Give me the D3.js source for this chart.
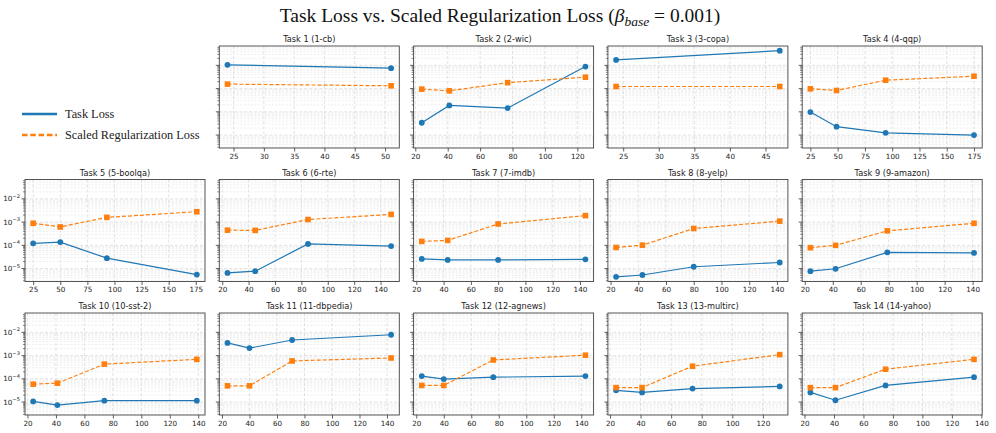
<!DOCTYPE html>
<html><head><meta charset="utf-8">
<script src="https://cdn.jsdelivr.net/npm/d3@7"></script>
<style>body{margin:0;background:#fff} svg{display:block}</style>
</head><body>
<svg id="c" width="996" height="433"></svg>
<script>
// ---------------- data ----------------
const titles = ["Task 1 (1-cb)","Task 2 (2-wic)","Task 3 (3-copa)","Task 4 (4-qqp)","Task 5 (5-boolqa)",
  "Task 6 (6-rte)","Task 7 (7-imdb)","Task 8 (8-yelp)","Task 9 (9-amazon)","Task 10 (10-sst-2)",
  "Task 11 (11-dbpedia)","Task 12 (12-agnews)","Task 13 (13-multirc)","Task 14 (14-yahoo)"];
const xValues = [
  [24,51],[24,41,77,125],[24,47],[25,49,94,175],[25,50,93,176],
  [24,45,85,148],[24,43,80,144],[24,43,80,142],[24,42,79,141],[24,41,74,139],
  [24,40,71,143],[24,40,76,143],[24,41,74,131],[24,41,75,135]];
const taskLoss = [
  [1.05e-2,7.6e-3],[3.4e-5,1.88e-4,1.45e-4,8.9e-3],[1.72e-2,4.3e-2],[9.8e-5,2.3e-5,1.25e-5,1.0e-5],
  [1.22e-4,1.38e-4,2.8e-5,5.5e-6],[6.5e-6,7.7e-6,1.15e-4,9.3e-5],[2.6e-5,2.35e-5,2.35e-5,2.5e-5],
  [4.4e-6,5.3e-6,1.2e-5,1.83e-5],[7.7e-6,9.8e-6,5.0e-5,4.7e-5],[1.07e-5,7.4e-6,1.15e-5,1.15e-5],
  [3.5e-3,2.1e-3,4.7e-3,7.9e-3],[1.31e-4,9.8e-5,1.18e-4,1.31e-4],[3.2e-5,2.6e-5,3.8e-5,4.7e-5],
  [2.6e-5,1.2e-5,5.2e-5,1.18e-4]];
const regLoss = [
  [1.56e-3,1.32e-3],[9.5e-4,8.0e-4,1.8e-3,3.1e-3],[1.23e-3,1.23e-3],[9.8e-4,8.3e-4,2.3e-3,3.4e-3],
  [8.9e-4,6.2e-4,1.6e-3,2.8e-3],[4.5e-4,4.4e-4,1.29e-3,2.15e-3],[1.48e-4,1.63e-4,8.3e-4,1.9e-3],
  [8.1e-5,1.02e-4,5.3e-4,1.1e-3],[7.9e-5,1.0e-4,4.2e-4,8.9e-4],[5.9e-5,6.5e-5,4.3e-4,6.9e-4],
  [5.0e-5,5.0e-5,5.9e-4,7.9e-4],[5.2e-5,5.2e-5,6.5e-4,1.04e-3],[4.2e-5,4.2e-5,3.5e-4,1.1e-3],
  [4.2e-5,4.2e-5,2.6e-4,6.9e-4]];
const xTicks = [
  [25,30,35,40,45,50],[20,40,60,80,100,120],[25,30,35,40,45],[25,50,75,100,125,150,175],
  [25,50,75,100,125,150,175],[20,40,60,80,100,120,140],[20,40,60,80,100,120,140],
  [20,40,60,80,100,120,140],[20,40,60,80,100,120,140],[20,40,60,80,100,120,140],
  [20,40,60,80,100,120,140],[20,40,60,80,100,120,140],[20,40,60,80,100,120],
  [20,40,60,80,100,120,140]];
const yMajorExp = [-5,-4,-3,-2];
const legendLabels = ["Task Loss","Scaled Regularization Loss"];
const titleMain = "Task Loss vs. Scaled Regularization Loss (";

// ---------------- layout ----------------
const BLUE = "#1f77b4", ORANGE = "#ff7f0e";
const svg = d3.select("#c");
const axW = 180, axH = 102;
const left0 = 25, colStep = 194.3;
const rowTop = [46, 179.5, 313];

// shared log y (matplotlib-like 5% padding in log space)
const allY = taskLoss.flat().concat(regLoss.flat());
const lmin = Math.log10(d3.min(allY)), lmax = Math.log10(d3.max(allY));
const pad = (lmax - lmin) * 0.05;
const yDomain = [Math.pow(10, lmin - pad), Math.pow(10, lmax + pad)];

const minorVals = [];
for (let e = -7; e <= 0; e++) for (let k = 2; k <= 9; k++) {
  const v = k * Math.pow(10, e);
  if (v > yDomain[0] && v < yDomain[1]) minorVals.push(v);
}
const majorVals = yMajorExp.map(e => Math.pow(10, e));

// title
const t = svg.append("text").attr("x", 500).attr("y", 22).attr("text-anchor", "middle")
  .attr("font-family", "Liberation Serif, serif").attr("font-size", 19.5).attr("fill", "#111");
t.append("tspan").text(titleMain);
t.append("tspan").attr("font-style", "italic").text("β");
t.append("tspan").attr("font-style", "italic").attr("font-size", 13.5).attr("dy", 4).text("base");
t.append("tspan").attr("dy", -4).text("\u2005=\u20050.001)");

// legend
const lg = svg.append("g");
legendLabels.forEach((lab, i) => {
  const y = 114 + i * 21;
  lg.append("line").attr("x1", 22).attr("x2", 57).attr("y1", y).attr("y2", y)
    .attr("stroke", i === 0 ? BLUE : ORANGE).attr("stroke-width", 2.4)
    .attr("stroke-dasharray", i === 0 ? null : "5.5,2.8");
  lg.append("text").attr("x", 65).attr("y", y + 4.2).text(lab)
    .attr("font-family", "Liberation Serif, serif").attr("font-size", 12.3).attr("fill", "#222");
});

titles.forEach((title, i) => {
  const p = i + 1;
  const row = Math.floor(p / 5), col = p % 5;
  const x0 = left0 + col * colStep, y0 = rowTop[row];
  const g = svg.append("g").attr("transform", `translate(${x0},${y0})`);
  const xs = xValues[i];
  const xmin = d3.min(xs), xmax = d3.max(xs), xp = (xmax - xmin) * 0.05;
  const x = d3.scaleLinear().domain([xmin - xp, xmax + xp]).range([0, axW]);
  const y = d3.scaleLog().domain(yDomain).range([axH, 0]);

  // grid
  const grid = g.append("g");
  grid.selectAll(".mn").data(minorVals).join("line")
    .attr("x1", 0).attr("x2", axW).attr("y1", d => y(d)).attr("y2", d => y(d))
    .attr("stroke", "#e2e2e2").attr("stroke-width", 0.6).attr("stroke-dasharray", "2,1.5");
  grid.selectAll(".mj").data(majorVals).join("line")
    .attr("x1", 0).attr("x2", axW).attr("y1", d => y(d)).attr("y2", d => y(d))
    .attr("stroke", "#d6d6d6").attr("stroke-width", 0.7).attr("stroke-dasharray", "3,2");
  grid.selectAll(".vx").data(xTicks[i]).join("line")
    .attr("y1", 0).attr("y2", axH).attr("x1", d => x(d)).attr("x2", d => x(d))
    .attr("stroke", "#d6d6d6").attr("stroke-width", 0.7).attr("stroke-dasharray", "3,2");

  // axes
  const xa = g.append("g").attr("transform", `translate(0,${axH})`)
    .call(d3.axisBottom(x).tickValues(xTicks[i]).tickSize(3.5).tickPadding(2).tickFormat(d3.format("d")));
  xa.select(".domain").remove();
  xa.selectAll("text").attr("font-family", "DejaVu Sans, sans-serif").attr("font-size", 7.2).attr("fill", "#222");
  xa.selectAll("line").attr("stroke", "#333").attr("stroke-width", 0.8);

  const ya = g.append("g");
  ya.selectAll(".ymt").data(majorVals).join("line")
    .attr("x1", -3.5).attr("x2", 0).attr("y1", d => y(d)).attr("y2", d => y(d))
    .attr("stroke", "#333").attr("stroke-width", 0.8);
  ya.selectAll(".ynt").data(minorVals).join("line")
    .attr("x1", -2).attr("x2", 0).attr("y1", d => y(d)).attr("y2", d => y(d))
    .attr("stroke", "#333").attr("stroke-width", 0.6);
  if (col === 0) {
    yMajorExp.forEach(e => {
      const tx = ya.append("text").attr("x", -5).attr("y", y(Math.pow(10, e)) + 2.5)
        .attr("text-anchor", "end").attr("font-family", "DejaVu Sans, sans-serif")
        .attr("font-size", 7.2).attr("fill", "#222");
      tx.append("tspan").text("10");
      tx.append("tspan").attr("font-size", 5.2).attr("dy", -3.5).text("−" + Math.abs(e));
    });
  }

  // frame
  g.append("rect").attr("width", axW).attr("height", axH).attr("fill", "none")
    .attr("stroke", "#444").attr("stroke-width", 0.9);

  // title
  g.append("text").attr("x", axW / 2).attr("y", -4).attr("text-anchor", "middle")
    .attr("font-family", "DejaVu Sans, sans-serif").attr("font-size", 8.2).attr("fill", "#222").text(title);

  // series
  const tl = xs.map((d, j) => [d, taskLoss[i][j]]);
  const rl = xs.map((d, j) => [d, regLoss[i][j]]);
  const line = d3.line().x(d => x(d[0])).y(d => y(d[1]));
  g.append("path").datum(tl).attr("d", line).attr("fill", "none").attr("stroke", BLUE).attr("stroke-width", 1.2);
  g.append("path").datum(rl).attr("d", line).attr("fill", "none").attr("stroke", ORANGE)
    .attr("stroke-width", 1.2).attr("stroke-dasharray", "4,2");
  g.selectAll(".pt").data(tl).join("circle").attr("cx", d => x(d[0])).attr("cy", d => y(d[1]))
    .attr("r", 2.9).attr("fill", BLUE);
  g.selectAll(".sq").data(rl).join("rect").attr("x", d => x(d[0]) - 2.8).attr("y", d => y(d[1]) - 2.8)
    .attr("width", 5.6).attr("height", 5.6).attr("fill", ORANGE);
});
</script>
</body></html>
